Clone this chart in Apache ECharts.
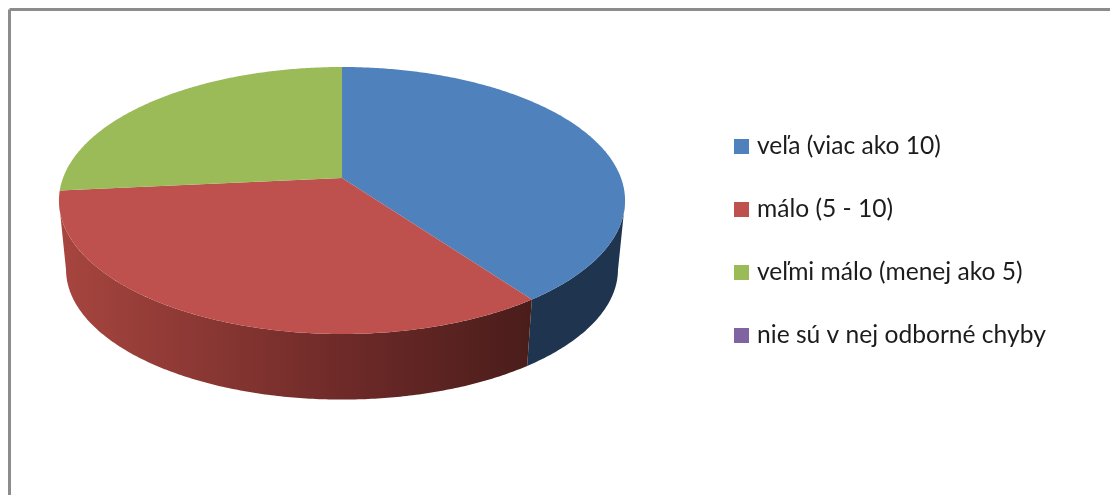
<!DOCTYPE html>
<html><head><meta charset="utf-8">
<style>html,body{margin:0;padding:0;background:#fff}#c{width:1110px;height:495px}</style>
<script src="https://cdn.jsdelivr.net/npm/echarts@6/dist/echarts.min.js"></script>
</head><body><div id="c"></div>
<script>
const categories = ['veľa (viac ako 10)', 'málo (5 - 10)', 'veľmi málo (menej ako 5)', 'nie sú v nej odborné chyby'];
const values = [40, 33.5, 26.5, 0];
const colors = ['#4F81BD', '#BE504D', '#9BBB59', '#8064A2'];

const total = values.reduce((a, b) => a + b, 0);
const starts = [];
values.reduce((acc, v, i) => { starts[i] = acc; return acc + v; }, 0);

// perspective projection of the pie disc
const P = { cx: 342, cy: 178, a: 279, b: 129.7, k: 0.1685, wallCy: 247.5, wallScale: 0.975 };
function project(theta, bottom) {
  const u = Math.sin(theta), v = Math.cos(theta), w = 1 + P.k * v;
  const X = P.a * u / w, Y = -P.b * v / w;
  return bottom ? [P.cx + P.wallScale * X, P.wallCy + P.wallScale * Y] : [P.cx + X, P.cy + Y];
}
function arc(t0, t1, bottom) {
  const n = Math.max(2, Math.ceil(Math.abs(t1 - t0) / 0.01));
  const pts = [];
  for (let i = 0; i <= n; i++) pts.push(project(t0 + (t1 - t0) * i / n, bottom));
  return pts;
}
const wallFill = [
  '#1F344F',
  new echarts.graphic.LinearGradient(62, 0, 530, 0, [
    { offset: 0, color: '#A7453F' },
    { offset: 0.6, color: '#6E2A28' },
    { offset: 1, color: '#4A1D1B' }
  ], true),
  '#5A7030',
  '#4C3C61'
];
const FRONT0 = 100 * Math.PI / 180, FRONT1 = 260 * Math.PI / 180;

function makeRender(idx) {
  return function () {
    if (!values[idx]) return null;
    const t0 = starts[idx] / total * 2 * Math.PI;
    const t1 = (starts[idx] + values[idx]) / total * 2 * Math.PI;
    const children = [];
    const w0 = Math.max(t0, FRONT0), w1 = Math.min(t1, FRONT1);
    if (w1 > w0) {
      const pts = arc(w0, w1, false).concat(arc(w1, w0, true));
      children.push({ type: 'polygon', shape: { points: pts }, style: { fill: wallFill[idx] } });
    }
    const top = [[P.cx, P.cy]].concat(arc(t0, t1, false));
    children.push({ type: 'polygon', shape: { points: top }, style: { fill: colors[idx] } });
    return { type: 'group', children };
  };
}

const chart = echarts.init(document.getElementById('c'), null, { renderer: 'canvas' });
chart.setOption({
  animation: false,
  backgroundColor: '#fff',
  legend: {
    data: categories,
    orient: 'vertical',
    left: 729,
    top: 129,
    icon: 'rect',
    itemWidth: 15,
    itemHeight: 15,
    itemGap: 38,
    selectedMode: false,
    textStyle: { fontFamily: 'Lato', fontSize: 24.6, color: '#1c1c1c', lineHeight: 15, padding: [0, 0, 0, 3] }
  },
  graphic: [
    { type: 'line', shape: { x1: 9.5, y1: 9.5, x2: 1110, y2: 9.5 }, style: { stroke: '#8c8c8c', lineWidth: 3 } },
    { type: 'line', shape: { x1: 9.5, y1: 9.5, x2: 9.5, y2: 495 }, style: { stroke: '#8c8c8c', lineWidth: 3 } }
  ],
  series: categories.map((name, i) => ({
    type: 'custom',
    name,
    coordinateSystem: 'none',
    itemStyle: { color: colors[i] },
    renderItem: makeRender(i),
    data: [values[i]],
    silent: true
  }))
});
</script></body></html>
